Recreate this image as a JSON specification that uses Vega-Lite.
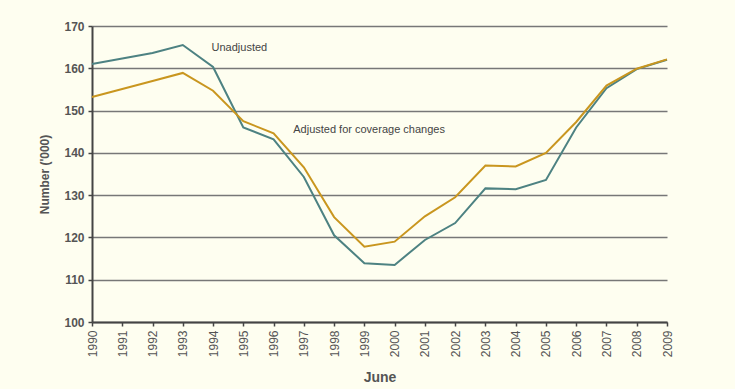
{
  "$schema": "https://vega.github.io/schema/vega-lite/v6.json",
  "width": 575,
  "height": 296,
  "autosize": {"type": "none"},
  "padding": {"left": 92, "top": 26, "right": 68, "bottom": 67},
  "background": "#fefef0",
  "config": {
    "view": {"stroke": null},
    "font": "Liberation Sans Narrow, Liberation Sans, sans-serif"
  },
  "datasets": {
    "series": [
      {"year": 1990, "series": "Unadjusted", "value": 161.0},
      {"year": 1991, "series": "Unadjusted", "value": 162.3},
      {"year": 1992, "series": "Unadjusted", "value": 163.6},
      {"year": 1993, "series": "Unadjusted", "value": 165.5},
      {"year": 1994, "series": "Unadjusted", "value": 160.3},
      {"year": 1995, "series": "Unadjusted", "value": 146.0},
      {"year": 1996, "series": "Unadjusted", "value": 143.2},
      {"year": 1997, "series": "Unadjusted", "value": 134.3},
      {"year": 1998, "series": "Unadjusted", "value": 120.5},
      {"year": 1999, "series": "Unadjusted", "value": 113.9},
      {"year": 2000, "series": "Unadjusted", "value": 113.5},
      {"year": 2001, "series": "Unadjusted", "value": 119.4},
      {"year": 2002, "series": "Unadjusted", "value": 123.4},
      {"year": 2003, "series": "Unadjusted", "value": 131.6},
      {"year": 2004, "series": "Unadjusted", "value": 131.4},
      {"year": 2005, "series": "Unadjusted", "value": 133.6},
      {"year": 2006, "series": "Unadjusted", "value": 146.0},
      {"year": 2007, "series": "Unadjusted", "value": 155.3},
      {"year": 2008, "series": "Unadjusted", "value": 159.8},
      {"year": 2009, "series": "Unadjusted", "value": 162.0},
      {"year": 1990, "series": "Adjusted", "value": 153.2},
      {"year": 1991, "series": "Adjusted", "value": 155.1},
      {"year": 1992, "series": "Adjusted", "value": 157.0},
      {"year": 1993, "series": "Adjusted", "value": 158.9},
      {"year": 1994, "series": "Adjusted", "value": 154.7},
      {"year": 1995, "series": "Adjusted", "value": 147.5},
      {"year": 1996, "series": "Adjusted", "value": 144.6},
      {"year": 1997, "series": "Adjusted", "value": 136.6},
      {"year": 1998, "series": "Adjusted", "value": 124.8},
      {"year": 1999, "series": "Adjusted", "value": 117.8},
      {"year": 2000, "series": "Adjusted", "value": 119.0},
      {"year": 2001, "series": "Adjusted", "value": 125.0},
      {"year": 2002, "series": "Adjusted", "value": 129.5},
      {"year": 2003, "series": "Adjusted", "value": 137.0},
      {"year": 2004, "series": "Adjusted", "value": 136.8},
      {"year": 2005, "series": "Adjusted", "value": 140.0},
      {"year": 2006, "series": "Adjusted", "value": 147.3},
      {"year": 2007, "series": "Adjusted", "value": 155.9},
      {"year": 2008, "series": "Adjusted", "value": 159.9},
      {"year": 2009, "series": "Adjusted", "value": 162.1}
    ],
    "labels": [
      {"year": 1993.95, "value": 164.8, "text": "Unadjusted"},
      {"year": 1996.65, "value": 145.4, "text": "Adjusted for coverage changes"}
    ]
  },
  "encoding": {
    "x": {
      "field": "year", "type": "quantitative",
      "scale": {"domain": [1990, 2009], "nice": false, "zero": false},
      "axis": {
        "title": "June", "titleFontSize": 14, "titleFontWeight": "bold", "titleColor": "#555555",
        "titlePadding": 14,
        "values": [1990,1991,1992,1993,1994,1995,1996,1997,1998,1999,2000,2001,2002,2003,2004,2005,2006,2007,2008,2009],
        "tickCount": 20,
        "format": "d", "labelAngle": 270, "labelAlign": "right", "labelBaseline": "middle",
        "labelFontSize": 12, "labelColor": "#555555", "labelPadding": 4,
        "labelOverlap": false, "labelFlush": false,
        "grid": false, "domainColor": "#444444", "domainWidth": 2,
        "tickColor": "#444444", "tickWidth": 1.5, "tickSize": 4
      }
    },
    "y": {
      "field": "value", "type": "quantitative",
      "scale": {"domain": [100, 170], "nice": false, "zero": false},
      "axis": {
        "title": "Number ('000)", "titleFontSize": 12, "titleFontWeight": "bold", "titleColor": "#555555",
        "titlePadding": 12,
        "values": [100,110,120,130,140,150,160,170],
        "labelFontSize": 12, "labelColor": "#555555", "labelFontWeight": "bold", "labelPadding": 4,
        "grid": true, "gridColor": "#777777", "gridWidth": 1.5,
        "domainColor": "#444444", "domainWidth": 2,
        "tickColor": "#444444", "tickWidth": 1.5, "tickSize": 4
      }
    }
  },
  "layer": [
    {
      "data": {"name": "series"},
      "mark": {"type": "line", "strokeWidth": 2},
      "encoding": {
        "color": {
          "field": "series", "type": "nominal",
          "scale": {"domain": ["Unadjusted", "Adjusted"], "range": ["#4d8282", "#c9961f"]},
          "legend": null
        }
      }
    },
    {
      "data": {"name": "labels"},
      "mark": {"type": "text", "align": "left", "baseline": "middle", "fontSize": 11, "color": "#444444"},
      "encoding": {
        "text": {"field": "text"}
      }
    }
  ]
}
